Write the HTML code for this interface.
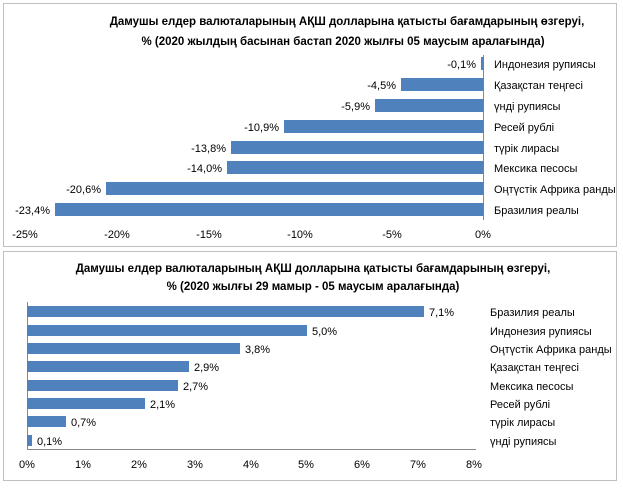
<!DOCTYPE html>
<html><head><meta charset="utf-8"><style>
body{margin:0;background:#fff;}
svg text{font-family:"Liberation Sans",sans-serif;font-size:11px;fill:#000;}
.t{font-weight:bold;font-size:11.5px;}
</style></head><body>
<svg width="623" height="484" xmlns="http://www.w3.org/2000/svg">
<rect x="3.5" y="3.5" width="613" height="243" fill="#fff" stroke="#bfbfbf"/>
<rect x="3.5" y="251.5" width="613" height="229" fill="#fff" stroke="#bfbfbf"/>
<text class="t" x="347" y="25" text-anchor="middle">Дамушы елдер валюталарының АҚШ долларына қатысты бағамдарының өзгеруі,</text>
<text class="t" x="343" y="45" text-anchor="middle">%  (2020 жылдың басынан бастап 2020 жылғы 05 маусым аралағында)</text>
<line x1="483.5" y1="55" x2="483.5" y2="220" stroke="#888"/>
<g fill="#4f81bd">
<rect x="481" y="57" width="2.5" height="13"/>
<rect x="401" y="78" width="82.5" height="13"/>
<rect x="375" y="99" width="108.5" height="13"/>
<rect x="284" y="120" width="199.5" height="13"/>
<rect x="231" y="141" width="252.5" height="13"/>
<rect x="227" y="161" width="256.5" height="13"/>
<rect x="106" y="182" width="377.5" height="13"/>
<rect x="55" y="203" width="428.5" height="13"/>
</g>
<g text-anchor="end">
<text x="476" y="68">-0,1%</text>
<text x="396" y="89">-4,5%</text>
<text x="370" y="110">-5,9%</text>
<text x="279" y="131">-10,9%</text>
<text x="226" y="152">-13,8%</text>
<text x="222" y="172">-14,0%</text>
<text x="101" y="193">-20,6%</text>
<text x="50" y="214">-23,4%</text>
</g>
<g>
<text x="494" y="68">Индонезия рупиясы</text>
<text x="494" y="89">Қазақстан теңгесі</text>
<text x="494" y="110">үнді рупиясы</text>
<text x="494" y="131">Ресей рублі</text>
<text x="494" y="152">түрік лирасы</text>
<text x="494" y="172">Мексика песосы</text>
<text x="494" y="193">Оңтүстік Африка ранды</text>
<text x="494" y="214">Бразилия реалы</text>
</g>
<g text-anchor="middle">
<text x="25" y="238">-25%</text><text x="117" y="238">-20%</text><text x="209" y="238">-15%</text>
<text x="300" y="238">-10%</text><text x="392" y="238">-5%</text><text x="483" y="238">0%</text>
</g>

<text class="t" x="313" y="272" text-anchor="middle">Дамушы елдер валюталарының АҚШ долларына қатысты бағамдарының өзгеруі,</text>
<text class="t" x="313" y="290" text-anchor="middle">%  (2020 жылғы 29 мамыр - 05 маусым аралағында)</text>
<line x1="27.5" y1="302" x2="27.5" y2="450" stroke="#888"/>
<line x1="27" y1="449.5" x2="476" y2="449.5" stroke="#888"/>
<g fill="#4f81bd">
<rect x="27" y="306" width="397" height="11"/>
<rect x="27" y="325" width="280" height="11"/>
<rect x="27" y="343" width="213" height="11"/>
<rect x="27" y="361" width="162" height="11"/>
<rect x="27" y="380" width="151" height="11"/>
<rect x="27" y="398" width="118" height="11"/>
<rect x="27" y="416" width="39" height="11"/>
<rect x="27" y="435" width="5" height="11"/>
</g>
<g>
<text x="429" y="316">7,1%</text>
<text x="312" y="335">5,0%</text>
<text x="245" y="353">3,8%</text>
<text x="194" y="371">2,9%</text>
<text x="183" y="390">2,7%</text>
<text x="150" y="408">2,1%</text>
<text x="71" y="426">0,7%</text>
<text x="37" y="445">0,1%</text>
</g>
<g>
<text x="490" y="316">Бразилия реалы</text>
<text x="490" y="335">Индонезия рупиясы</text>
<text x="490" y="353">Оңтүстік Африка ранды</text>
<text x="490" y="371">Қазақстан теңгесі</text>
<text x="490" y="390">Мексика песосы</text>
<text x="490" y="408">Ресей рублі</text>
<text x="490" y="426">түрік лирасы</text>
<text x="490" y="445">үнді рупиясы</text>
</g>
<g text-anchor="middle">
<text x="27" y="468">0%</text><text x="83" y="468">1%</text><text x="139" y="468">2%</text>
<text x="195" y="468">3%</text><text x="251" y="468">4%</text><text x="306" y="468">5%</text>
<text x="362" y="468">6%</text><text x="418" y="468">7%</text><text x="474" y="468">8%</text>
</g>
</svg>
</body></html>
